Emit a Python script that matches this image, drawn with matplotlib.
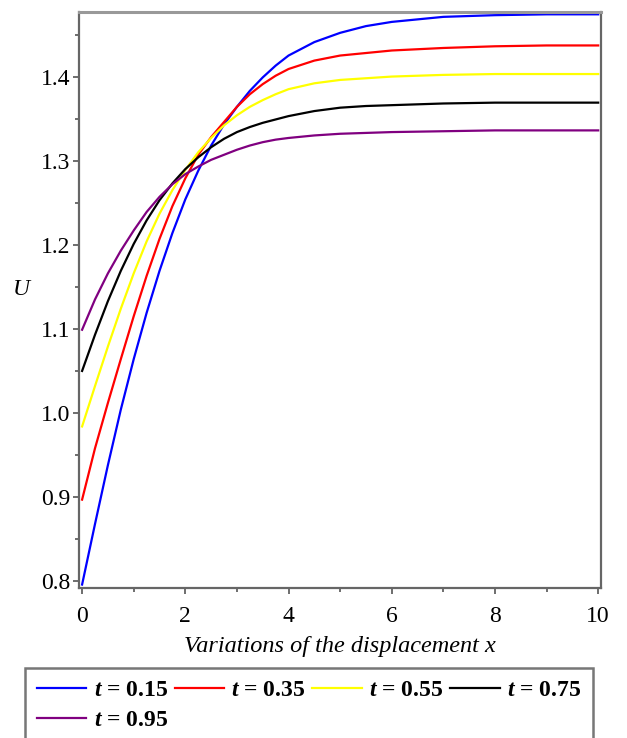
import numpy as np
import matplotlib
matplotlib.use("Agg")
import matplotlib.pyplot as plt

plt.rcParams['font.family'] = 'Liberation Serif'
plt.rcParams['mathtext.fontset'] = 'custom'
plt.rcParams['mathtext.it'] = 'Liberation Serif:italic:bold'
plt.rcParams['mathtext.rm'] = 'Liberation Serif:bold'

# displacement grid
x = [0, 0.25, 0.5, 0.75, 1.0, 1.25, 1.5, 1.75, 2.0, 2.25, 2.5, 2.75, 3.0, 3.25,
     3.5, 3.75, 4.0, 4.5, 5.0, 5.5, 6.0, 7.0, 8.0, 9.0, 10.0]

U_015 = [0.796, 0.868, 0.938, 1.004, 1.064, 1.119, 1.169, 1.214, 1.254, 1.288, 1.318, 1.343, 1.364, 1.383,
         1.399, 1.413, 1.425, 1.441, 1.452, 1.460, 1.465, 1.471, 1.473, 1.474, 1.474]
U_035 = [0.897, 0.958, 1.012, 1.064, 1.115, 1.163, 1.207, 1.246, 1.279, 1.307, 1.328, 1.346, 1.364, 1.379,
         1.391, 1.401, 1.409, 1.419, 1.425, 1.428, 1.431, 1.434, 1.436, 1.437, 1.437]
U_055 = [0.984, 1.032, 1.079, 1.124, 1.166, 1.204, 1.237, 1.265, 1.289, 1.310, 1.327, 1.342, 1.354, 1.364,
         1.372, 1.379, 1.385, 1.392, 1.396, 1.398, 1.400, 1.402, 1.403, 1.403, 1.403]
U_075 = [1.050, 1.093, 1.133, 1.169, 1.201, 1.229, 1.253, 1.273, 1.290, 1.304, 1.316, 1.326, 1.334, 1.340,
         1.345, 1.349, 1.353, 1.359, 1.363, 1.365, 1.366, 1.368, 1.369, 1.369, 1.369]
U_095 = [1.099, 1.135, 1.166, 1.193, 1.217, 1.239, 1.257, 1.272, 1.284, 1.293, 1.301, 1.307, 1.313, 1.318,
         1.322, 1.325, 1.327, 1.330, 1.332, 1.333, 1.334, 1.335, 1.336, 1.336, 1.336]

t_vals = ['0.15', '0.35', '0.55', '0.75', '0.95']
series = [U_015, U_035, U_055, U_075, U_095]
colors = ['#0000ff', '#ff0000', '#ffff00', '#000000', '#800080']

fig = plt.figure(figsize=(6.27, 7.38), dpi=100)
ax = fig.add_axes([0.126, 0.203, 0.833, 0.781])

lines = []
for U, t, c in zip(series, t_vals, colors):
    ln, = ax.plot(x, U, color=c, linewidth=1.6, label=f'$t$ = {t}')
    lines.append(ln)

ax.set_xlim(-0.06, 10.06)
ax.set_ylim(0.7917, 1.477)
ax.set_xticks([0, 2, 4, 6, 8, 10])
ax.set_xticks([1, 3, 5, 7, 9], minor=True)
ax.set_yticks([0.8, 0.9, 1.0, 1.1, 1.2, 1.3, 1.4])
ax.set_yticks(np.arange(0.85, 1.5, 0.1), minor=True)
ax.set_yticklabels(['0.8', '0.9', '1.0', '1.1', '1.2', '1.3', '1.4'])
ax.tick_params(labelsize=17, length=4, width=1.2, color='#555555', pad=2)
ax.tick_params(axis='x', pad=9)
ax.tick_params(which='minor', length=3, width=1.2, color='#555555')

for s in ax.spines.values():
    s.set_color('#666666')
    s.set_linewidth(1.6)
ax.spines['top'].set_color('#999999')
ax.spines['top'].set_linewidth(2.2)

ax.set_xlabel('Variations of the displacement x', fontsize=17.5, style='italic', labelpad=6)
ax.set_ylabel('U', fontsize=17, style='italic', rotation=0, labelpad=14)

# matplotlib fills legend columns first -> reorder so that rows read left to right
order = [0, 4, 1, 2, 3]
leg = fig.legend([lines[i] for i in order], [lines[i].get_label() for i in order],
                 loc='upper left', bbox_to_anchor=(0.04, 0.0949, 0.906, 0.0), mode='expand',
                 ncol=4, prop={'weight': 'bold', 'size': 17},
                 fancybox=False, edgecolor='#555555', handlelength=2.1,
                 handletextpad=0.3, columnspacing=0.4, borderpad=0.5, labelspacing=0.35,
                 borderaxespad=0.0)
leg.get_frame().set_linewidth(1.8)

fig.savefig('out.png', dpi=100)
